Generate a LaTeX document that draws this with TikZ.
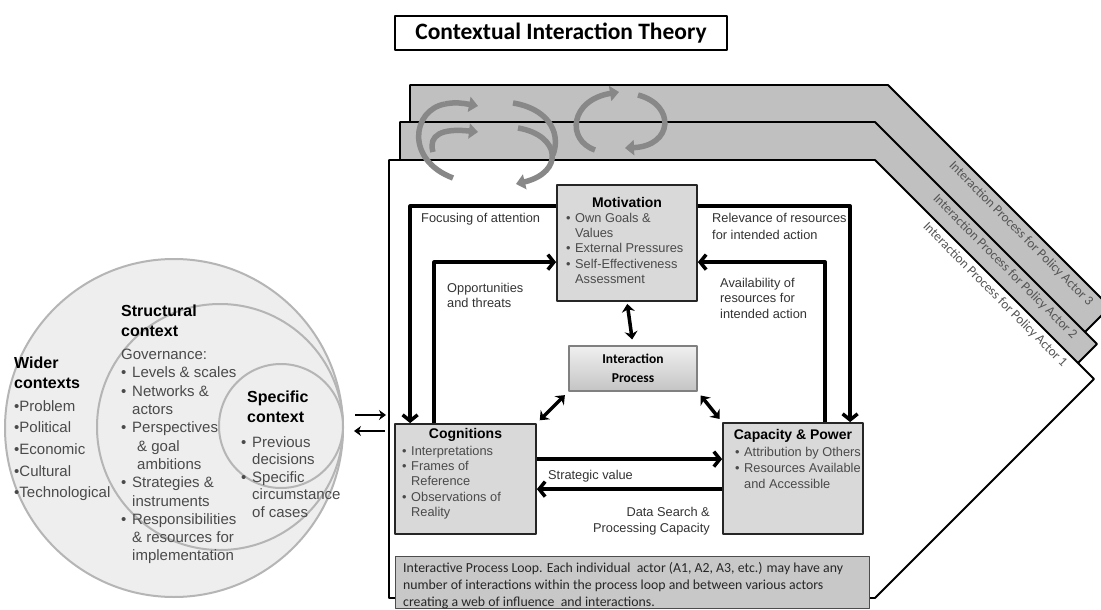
\documentclass[tikz,border=0pt]{standalone}
\usepackage{fontspec}
\setmainfont{Liberation Sans}
\newfontfamily\calfont{Carlito}
\usetikzlibrary{arrows.meta,calc}
\definecolor{panelgray}{HTML}{C0C0C0}
\definecolor{boxgray}{HTML}{D9D9D9}
\definecolor{circfill}{HTML}{EEEEEE}
\definecolor{circline}{HTML}{B5B5B5}
\definecolor{txtgray}{HTML}{4A4A4A}
\definecolor{lblgray}{HTML}{333333}
\definecolor{decogray}{HTML}{888888}
\definecolor{loopgray}{HTML}{C8C8C8}
\definecolor{plabel}{HTML}{555555}
\newcommand{\bl}{\makebox[11pt][l]{\textbullet}}
\newcommand{\ind}{\hspace*{11pt}}
\newcommand{\bls}{\makebox[9pt][l]{\textbullet}}
\newcommand{\inds}{\hspace*{9pt}}
\begin{document}
\begin{tikzpicture}[x=1pt,y=-1pt,line join=round,
  panel/.style={draw=black,line width=1.8pt},
  circ/.style={circle,draw=circline,fill=circfill,line width=2pt,inner sep=0pt},
  head/.style={anchor=north west,inner sep=0pt,align=left,text=black,font={\bfseries\fontsize{16}{20}\selectfont}},
  citem/.style={anchor=north west,inner sep=0pt,align=left,text=txtgray},
  mbox/.style={draw=black!85,fill=boxgray,line width=1.8pt,inner sep=0pt},
  btitle/.style={inner sep=0pt,text=black,font={\bfseries\fontsize{14}{16}\selectfont}},
  blist/.style={anchor=north west,inner sep=0pt,align=left,text=txtgray},
  lbl/.style={anchor=north west,inner sep=0pt,align=left,text=lblgray},
  conn/.style={line width=3.5pt,-{Straight Barb[length=6pt,width=15pt]}},
  dbl/.style={line width=3.5pt,{Stealth[length=8pt,width=13pt]}-{Stealth[length=8pt,width=13pt]}},
  sidearrow/.style={line width=2.8pt,-{Stealth[length=7pt,width=10pt]}},
  deco/.style={draw=decogray,line width=5.5pt,line cap=butt},
  decoarr/.style={deco,-{Triangle[length=9pt,width=15pt]}},
  plbl/.style={inner sep=0pt,text=plabel,font={\calfont\fontsize{13.3}{15}\selectfont},rotate=-45}]
\useasboundingbox (0,0) rectangle (1101,610);
\fill[white] (0,0) rectangle (1101,610);

% title
\node[draw=black,line width=1.2pt,minimum width=332pt,minimum height=34pt,inner sep=0pt,
  font={\calfont\bfseries\fontsize{23.5}{26}\selectfont}] (title) at (561,33) {Contextual Interaction Theory};

% panels
\draw[panel,fill=panelgray] (410,85) -- (888,85) -- (1110,307) -- (888,529) -- (410,529) -- cycle;
\draw[panel,fill=panelgray] (400,122) -- (875,122) -- (1097,344) -- (875,566) -- (400,566) -- cycle;
\draw[panel,fill=white] (389,160) -- (875,160) -- (1094,379) -- (875,598) -- (389,598) -- cycle;

\node[plbl] (pl3) at (1021,234) {Interaction Process for Policy Actor 3};
\node[plbl] (pl2) at (1005,267) {Interaction Process for Policy Actor 2};
\node[plbl] (pl1) at (995,295) {Interaction Process for Policy Actor 1};

% decorative cycle arrows
\draw[deco] (453,178) .. controls (405,160) and (412,110) .. (445,104);
\draw[decoarr] (445,104) .. controls (455,102) and (462,103) .. (478,106);
\draw[decoarr] (433,152) .. controls (428,135) and (442,128) .. (478,132);
\draw[deco] (513,103) .. controls (545,108) and (562,130) .. (553,155);
\draw[decoarr] (518,128) .. controls (560,135) and (565,172) .. (516,184);
\draw[decoarr] (595,150) .. controls (566,140) and (570,100) .. (619,92);
\draw[decoarr] (638,95) .. controls (676,105) and (673,146) .. (625,148);

% circles
\node[circ,minimum size=338pt] (outerc) at (174,428) {};
\node[circ,minimum size=246pt] (midc) at (220,427) {};
\node[circ,minimum size=124pt] (innerc) at (281,426) {};

\node[head] (widerh) at (14,357) {Wider\\contexts};
\node[citem,font={\fontsize{15}{21.7}\selectfont}] (wideri) at (14,400)
  {\textbullet Problem\\\textbullet Political\\\textbullet Economic\\\textbullet Cultural\\\textbullet Technological};
\node[head] (structh) at (121,305) {Structural\\context};
\node[citem,font={\fontsize{15}{18.3}\selectfont}] (structi) at (121,349)
  {Governance:\\\bl Levels \& scales\\\bl Networks \&\\\ind actors\\\bl Perspectives\\\hspace*{16pt}\& goal\\\hspace*{16pt}ambitions\\\bl Strategies \&\\\ind instruments\\\bl Responsibilities\\\ind \& resources for\\\ind implementation};
\node[head] (spech) at (247,391) {Specific\\context};
\node[citem,font={\fontsize{15}{17.5}\selectfont}] (speci) at (241,436)
  {\bl Previous\\\ind decisions\\\bl Specific\\\ind circumstance\\\ind of cases};

% circle to panel arrows
\coordinate (ca1) at (355,415);
\coordinate (ca2) at (386,415);
\coordinate (cb1) at (385,431);
\coordinate (cb2) at (354,431);
\draw[sidearrow] (ca1) -- (ca2);
\draw[sidearrow] (cb1) -- (cb2);

% main boxes
\node[mbox,minimum width=140pt,minimum height=116pt] (motiv) at (627,243) {};
\node[btitle] (motivt) at (627,202) {Motivation};
\node[blist,font={\fontsize{12.8}{15.2}\selectfont}] (motivl) at (566,213)
  {\bls Own Goals \&\\\inds Values\\\bls External Pressures\\\bls Self-Effectiveness\\\inds Assessment};

\node[mbox,minimum width=141pt,minimum height=110pt] (cogn) at (465.5,479) {};
\node[btitle] (cognt) at (465.5,435) {Cognitions};
\node[blist,font={\fontsize{12.8}{15.2}\selectfont}] (cognl) at (402,446)
  {\bls Interpretations\\\bls Frames of\\\inds Reference\\\bls Observations of\\\inds Reality};

\node[mbox,minimum width=140pt,minimum height=111pt] (capac) at (793,478.5) {};
\node[btitle] (capact) at (793,436) {Capacity \& Power};
\node[blist,font={\fontsize{12.8}{16}\selectfont}] (capacl) at (735,447)
  {\bls Attribution by Others\\\bls Resources Available\\\inds and Accessible};

\node[draw=black!50,line width=1.2pt,top color=white!94!black,bottom color=black!23,minimum width=128pt,minimum height=45pt,
  inner sep=0pt,align=center,font={\calfont\bfseries\fontsize{13.5}{19}\selectfont}] (inter) at (633,368.5) {Interaction\\Process};

% labels
\node[lbl,font={\fontsize{12.8}{15}\selectfont}] (lfocus) at (421,213) {Focusing of attention};
\node[lbl,font={\fontsize{12.8}{17}\selectfont}] (lrelev) at (712,213) {Relevance of resources\\for intended action};
\node[lbl,font={\fontsize{12.8}{15.5}\selectfont}] (lopp) at (447,283) {Opportunities\\and threats};
\node[lbl,font={\fontsize{12.8}{15.3}\selectfont}] (lavail) at (720,278) {Availability of\\resources for\\intended action};
\node[lbl,font={\fontsize{12.8}{15}\selectfont}] (lstrat) at (548,470) {Strategic value};
\node[lbl,anchor=north east,align=right,font={\fontsize{12.8}{16}\selectfont}] (ldata) at (710,507) {Data Search \&\\Processing Capacity};

% connectors
\draw[conn] ($(motiv.north west)+(0,22)$) -| ($(cogn.north west)+(16,0)$);
\draw[conn] ($(cogn.north west)+(40,0)$) |- ($(motiv.north west)+(0,78)$);
\draw[conn] ($(motiv.north east)+(0,22)$) -| ($(capac.north west)+(128,0)$);
\draw[conn] ($(capac.north west)+(103,0)$) |- ($(motiv.north east)+(0,78)$);
\draw[dbl,shorten <=2pt,shorten >=6pt] (motiv.south) -- (inter.north);
\draw[dbl,shorten <=5pt,shorten >=4pt] (inter.south west) -- (cogn.north east);
\draw[dbl,shorten <=5pt,shorten >=4pt] (inter.south east) -- (capac.north west);
\coordinate (sv) at ($(cogn.north east)+(0,36)$);
\draw[conn] (sv) -- (sv -| capac.west);
\coordinate (ds) at ($(capac.north west)+(0,67)$);
\draw[conn] (ds) -- (ds -| cogn.east);

% bottom loop box
\node[draw=black!70,fill=loopgray,line width=1pt,minimum width=474pt,minimum height=52pt,inner sep=0pt] (loopbox) at (632,582) {};
\node[anchor=north west,inner sep=0pt,align=left,text=black!85,font={\calfont\fontsize{13.8}{17}\selectfont}] (looptext) at (403,562)
  {Interactive Process Loop. Each individual\ \ actor (A1, A2, A3, etc.) may have any\\number of interactions within the process loop and between various actors\\creating a web of influence\ \ and interactions.};
\end{tikzpicture}
\end{document}
